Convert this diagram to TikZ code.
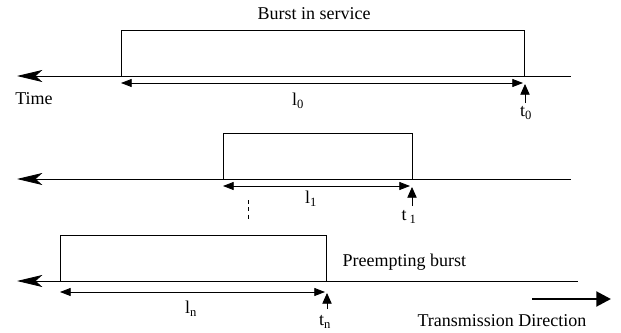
\documentclass[tikz,border=0pt]{standalone}
\usepackage{fontspec}
\setmainfont{Liberation Serif}
\usetikzlibrary{arrows.meta, positioning}

\tikzset{
  axis/.style={line width=0.6pt, {Stealth[length=19pt, width=9pt, inset=5pt]}-},
  burst/.style={draw, line width=0.6pt},
  span/.style={line width=0.6pt, {Triangle[length=8pt, width=6pt]}-{Triangle[length=8pt, width=6pt]}},
  tick/.style={line width=0.6pt, -{Triangle[length=8pt, width=7pt]}},
  lbl/.style={font=\fontsize{13.5}{16}\selectfont, inner sep=1pt},
}

\begin{document}
\begin{tikzpicture}[x=0.75pt, y=-0.75pt]
    \useasboundingbox (0,0) rectangle (621,332);

    % burst in service
    \coordinate (A0) at (17,76);   \coordinate (B0) at (571,76);
    \coordinate (S0) at (121,76);  \coordinate (E0) at (524,30);
    \draw[axis] (A0) -- (B0);
    \draw[burst] (S0) rectangle (E0);
    \coordinate (L0a) at (121,83); \coordinate (L0b) at (523,83);
    \draw[span] (L0a) -- (L0b);
    \coordinate (T0a) at (525,103); \coordinate (T0b) at (525,84);
    \draw[tick] (T0a) -- (T0b);
    \node[lbl] (title) at (314,14) {Burst in service};
    \node[lbl] (time) at (34,99) {Time};
    \node[lbl] (l0) at (298,101) {l\textsubscript{0}};
    \node[lbl] (t0) at (526,113) {t\textsubscript{0}};

    % second burst
    \coordinate (A1) at (17,179);  \coordinate (B1) at (571,179);
    \coordinate (S1) at (223,179); \coordinate (E1) at (412,133);
    \draw[axis] (A1) -- (B1);
    \draw[burst] (S1) rectangle (E1);
    \coordinate (L1a) at (223,186); \coordinate (L1b) at (410,186);
    \draw[span] (L1a) -- (L1b);
    \coordinate (T1a) at (412,206); \coordinate (T1b) at (412,187);
    \draw[tick] (T1a) -- (T1b);
    \node[lbl] (l1) at (311,199) {l\textsubscript{1}};
    \node[lbl] (t1) at (409,217) {t\,\textsubscript{1}};
    \coordinate (D1) at (248,200); \coordinate (D2) at (248,221);
    \draw[line width=0.6pt, dash pattern=on 3pt off 2.5pt] (D1) -- (D2);

    % preempting burst
    \coordinate (An) at (17,281);  \coordinate (Bn) at (578,281);
    \coordinate (Sn) at (60,281);  \coordinate (En) at (326,235);
    \draw[axis] (An) -- (Bn);
    \draw[burst] (Sn) rectangle (En);
    \coordinate (Lna) at (60,292); \coordinate (Lnb) at (325,292);
    \draw[span] (Lna) -- (Lnb);
    \coordinate (Tna) at (327,309); \coordinate (Tnb) at (327,293);
    \draw[tick] (Tna) -- (Tnb);
    \node[lbl] (ln) at (191,309) {l\textsubscript{n}};
    \node[lbl] (tn) at (325,322) {t\textsubscript{n}};
    \node[lbl, anchor=west] (pre) at (341,262) {Preempting burst};

    % direction
    \coordinate (Da) at (532,299); \coordinate (Db) at (611,299);
    \draw[line width=2.2pt, -{Triangle[length=11pt, width=11pt]}] (Da) -- (Db);
    \node[lbl, anchor=west] (dir) at (416,321) {Transmission Direction};
\end{tikzpicture}
\end{document}
